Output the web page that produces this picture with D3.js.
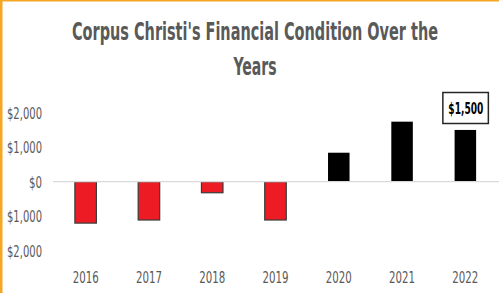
<!DOCTYPE html>
<html><head><meta charset="utf-8">
<script src="https://cdn.jsdelivr.net/npm/d3@7"></script>
<style>
html,body{margin:0;padding:0;background:#fff;}
svg{display:block;}
</style></head>
<body>
<script>
const years = ["2016","2017","2018","2019","2020","2021","2022"];
const values = [-1200, -1110, -320, -1110, 840, 1740, 1500];
const yTicks = [-2000, -1000, 0, 1000, 2000];
const titleLines = ["Corpus Christi's Financial Condition Over the", "Years"];
const callout = {year: "2022", label: "$1,500"};

const W = 499, H = 293;
const svg = d3.select("body").append("svg").attr("width", W).attr("height", H);
svg.append("rect").attr("width", W).attr("height", H).attr("fill", "#fff");

const font = "'DejaVu Sans Condensed', 'DejaVu Sans', sans-serif";

// title
const tw = [366, 43];
svg.selectAll("text.title").data(titleLines).join("text")
  .attr("class","title")
  .attr("x", 255).attr("y", (d,i) => 39.5 + i*35.5)
  .attr("text-anchor","middle")
  .attr("font-family", font).attr("font-weight","bold")
  .attr("font-size", 24).attr("fill", "#595959")
  .attr("textLength", (d,i) => tw[i]).attr("lengthAdjust","spacingAndGlyphs")
  .text(d => d);

const x = d3.scaleBand().domain(years).range([54, 497]).paddingInner(0.66).paddingOuter(0.33);
const y = d3.scaleLinear().domain([-2000, 2000]).range([250.7, 112.7]);

// y labels
const fmt = v => "$" + d3.format(",")(Math.abs(v));
svg.selectAll("text.ytick").data(yTicks).join("text")
  .attr("class","ytick")
  .attr("x", 42).attr("y", d => y(d)).attr("dy","0.36em")
  .attr("text-anchor","end")
  .attr("font-family", font).attr("font-size", 16.5).attr("fill","#595959")
  .attr("textLength", d => d === 0 ? 13 : 35).attr("lengthAdjust","spacingAndGlyphs")
  .text(fmt);

// bars
svg.selectAll("rect.bar").data(years.map((yr,i)=>({yr, v: values[i]}))).join("rect")
  .attr("class","bar")
  .attr("x", d => x(d.yr)).attr("width", x.bandwidth())
  .attr("y", d => y(Math.max(0, d.v))).attr("height", d => Math.abs(y(d.v) - y(0)))
  .attr("fill", d => d.v < 0 ? "#ED1C24" : "#000")
  .attr("stroke", d => d.v < 0 ? "#3a3a3a" : "none").attr("stroke-width", 1.2);

// zero line
svg.append("line").attr("x1", 53).attr("x2", W).attr("y1", y(0)).attr("y2", y(0))
  .attr("stroke", "#d9d9d9").attr("stroke-width", 1.2);

// x labels
svg.selectAll("text.xtick").data(years).join("text")
  .attr("class","xtick")
  .attr("x", d => x(d) + x.bandwidth()/2).attr("y", 282.5)
  .attr("text-anchor","middle")
  .attr("font-family", font).attr("font-size", 16.5).attr("fill","#595959")
  .attr("textLength", 26).attr("lengthAdjust","spacingAndGlyphs")
  .text(d => d);

// callout
const cx = x(callout.year) + x.bandwidth()/2;
svg.append("rect").attr("x", cx - 22.5).attr("y", 92.5).attr("width", 45.5).attr("height", 31)
  .attr("fill","#fff").attr("stroke","#262626").attr("stroke-width",1.5);
svg.append("text").attr("x", cx + 0.5).attr("y", 108).attr("dy","0.36em")
  .attr("text-anchor","middle").attr("font-family", font).attr("font-weight","bold")
  .attr("font-size", 16).attr("fill","#000")
  .attr("textLength", 35).attr("lengthAdjust","spacingAndGlyphs")
  .text(callout.label);

// orange border
svg.append("rect").attr("x",0).attr("y",0).attr("width",W).attr("height",1.5).attr("fill","#F5A623");
svg.append("rect").attr("x",0).attr("y",0).attr("width",2.5).attr("height",H).attr("fill","#F5A623");
</script>
</body></html>
